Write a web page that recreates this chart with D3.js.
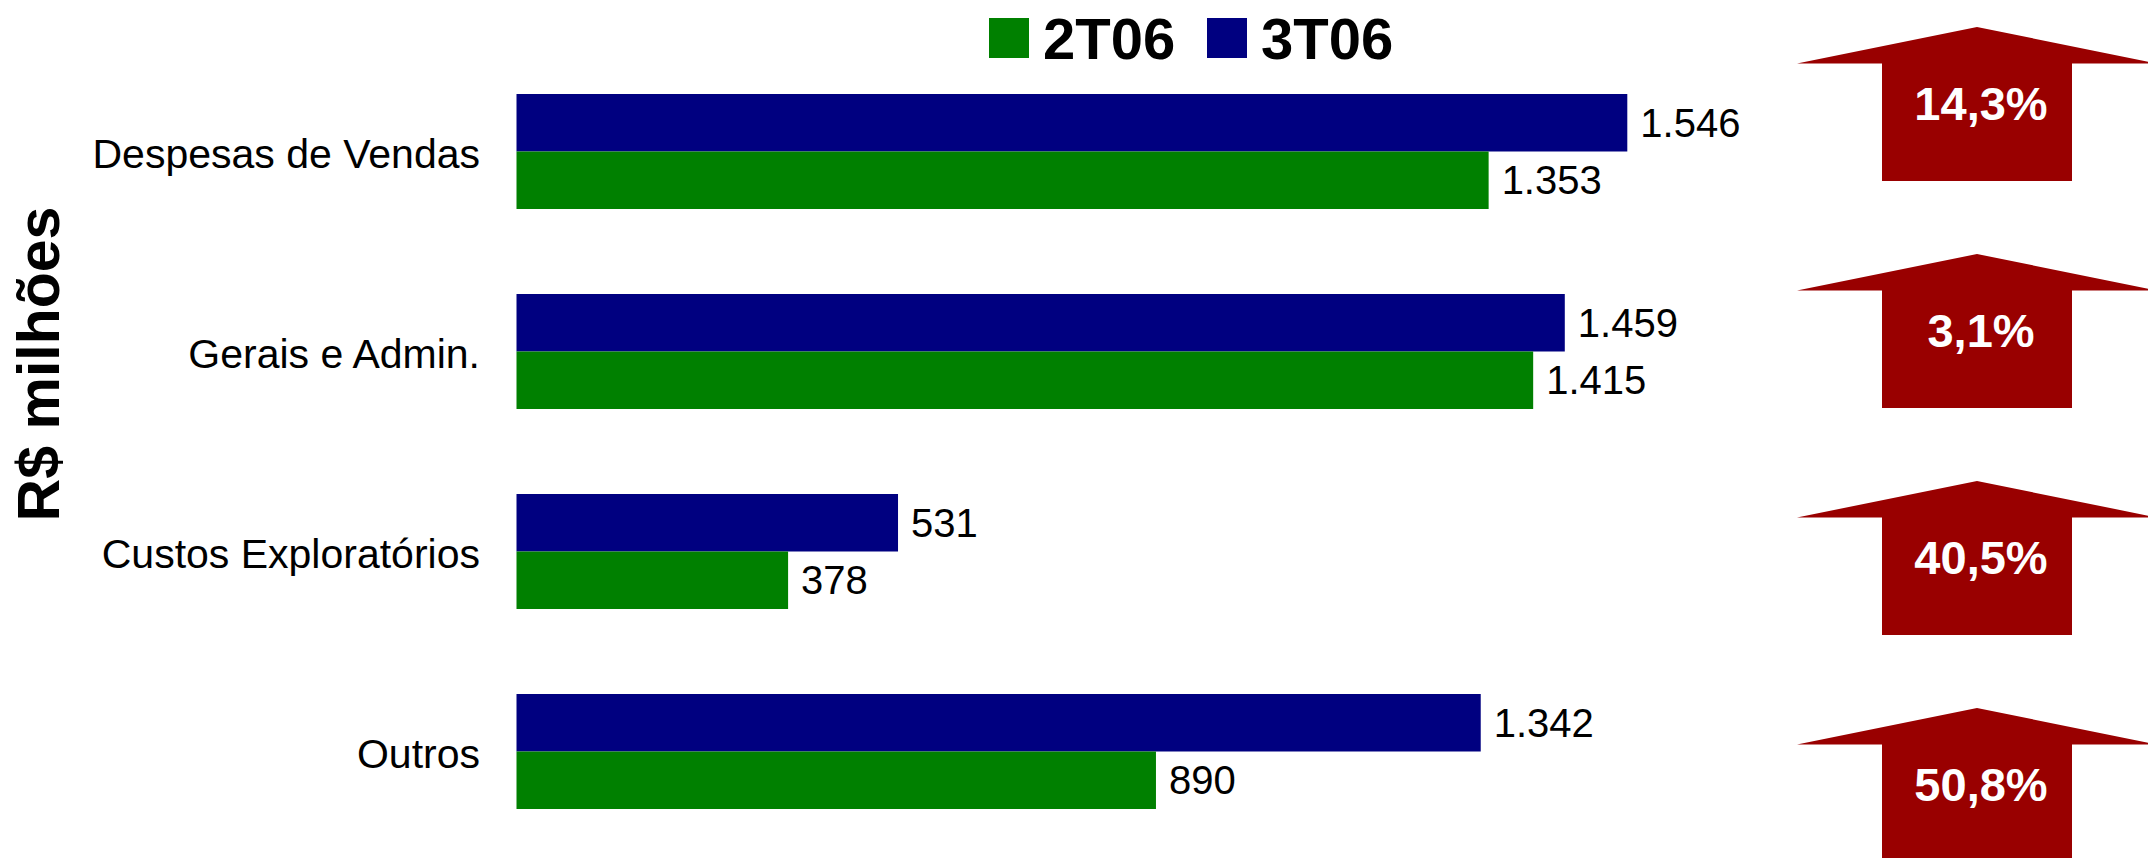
<!DOCTYPE html>
<html>
<head>
<meta charset="utf-8">
<script src="https://cdn.jsdelivr.net/npm/d3@7"></script>
<style>
  html, body { margin: 0; padding: 0; background: #ffffff; }
  svg { display: block; font-family: "Liberation Sans", Arial, Helvetica, sans-serif; }
</style>
</head>
<body>
<svg id="chart" width="2148" height="858"></svg>
<script>
// Despesas operacionais por natureza, R$ milhões
const categories = ["Despesas de Vendas", "Gerais e Admin.", "Custos Exploratórios", "Outros"];
const series = ["3T06", "2T06"];            // top bar, bottom bar within each group
const legendOrder = ["2T06", "3T06"];
const values2T06 = [1353, 1415, 378, 890];
const values3T06 = [1546, 1459, 531, 1342];
const colors = { "2T06": "#008000", "3T06": "#000080" };
const arrowColor = "#990000";
const yTitle = "R$ milhões";

const W = 2148, H = 858;
const svg = d3.select("#chart");

const ptBR = d3.formatLocale({ decimal: ",", thousands: ".", grouping: [3], currency: ["R$", ""] });
const fmtValue = ptBR.format(",.0f");
const fmtPct = ptBR.format(".1f");

const rows = categories.map((c, i) => ({
  category: c,
  "2T06": values2T06[i],
  "3T06": values3T06[i]
}));

// Scales
const x = d3.scaleLinear().domain([0, 2000]).range([516.5, 516.5 + 1437]);
const y = d3.scaleBand().domain(categories).range([94, 809]).paddingInner(0.425).paddingOuter(0);
const ySub = d3.scaleBand().domain(series).range([0, y.bandwidth()]).padding(0);

// Bars
const groups = svg.append("g").selectAll("g")
  .data(rows).join("g")
  .attr("transform", d => `translate(0,${y(d.category)})`);

groups.selectAll("rect")
  .data(d => series.map(s => ({ s, v: d[s] })))
  .join("rect")
  .attr("x", x(0))
  .attr("y", d => ySub(d.s))
  .attr("width", d => x(d.v) - x(0))
  .attr("height", ySub.bandwidth())
  .attr("fill", d => colors[d.s]);

groups.selectAll("text.value")
  .data(d => series.map(s => ({ s, v: d[s] })))
  .join("text")
  .attr("class", "value")
  .attr("x", d => x(d.v) + 13)
  .attr("y", d => ySub(d.s) + ySub.bandwidth() / 2 + 14)
  .attr("font-size", 40)
  .attr("fill", "#000")
  .text(d => fmtValue(d.v));

// Category labels
const yAxis = d3.axisLeft(y).tickSize(0).tickPadding(0);
const axisG = svg.append("g")
  .attr("transform", `translate(480,0)`)
  .call(yAxis);
axisG.select(".domain").remove();
axisG.selectAll("text")
  .attr("font-size", 41)
  .attr("font-family", "'Liberation Sans', Arial, sans-serif")
  .attr("fill", "#000")
  .attr("dy", "0.4em")
  .attr("x", 0);

// Axis title
svg.append("text")
  .attr("transform", "translate(59,364) rotate(-90)")
  .attr("text-anchor", "middle")
  .attr("font-size", 59)
  .attr("font-weight", "bold")
  .attr("fill", "#000")
  .text(yTitle);

// Legend
const legend = svg.append("g").attr("transform", "translate(989,18)");
const legItems = legend.selectAll("g")
  .data(legendOrder).join("g")
  .attr("transform", (d, i) => `translate(${i * 218},0)`);
legItems.append("rect")
  .attr("width", 40).attr("height", 40)
  .attr("fill", d => colors[d]);
legItems.append("text")
  .attr("x", 54)
  .attr("y", 41)
  .attr("font-size", 58)
  .attr("font-weight", "bold")
  .attr("fill", "#000")
  .text(d => d);

// Growth arrows (3T06 over 2T06)
const arrowY = d3.scalePoint().domain(categories).range([27, 708]);
const cx = 1977, headHalf = 180, shaftHalf = 95, headH = 36.5, arrowH = 154;
const arrows = svg.append("g").selectAll("g")
  .data(rows).join("g")
  .attr("transform", d => `translate(${cx},${arrowY(d.category)})`);

arrows.append("path")
  .attr("d", d3.line()([
    [0, 0], [headHalf, headH], [shaftHalf, headH], [shaftHalf, arrowH],
    [-shaftHalf, arrowH], [-shaftHalf, headH], [-headHalf, headH]
  ]) + "Z")
  .attr("fill", arrowColor);

arrows.append("text")
  .attr("x", 4)
  .attr("y", 93)
  .attr("text-anchor", "middle")
  .attr("font-size", 47)
  .attr("font-weight", "bold")
  .attr("fill", "#fff")
  .text(d => fmtPct((d["3T06"] / d["2T06"] - 1) * 100) + "%");
</script>
</body>
</html>
